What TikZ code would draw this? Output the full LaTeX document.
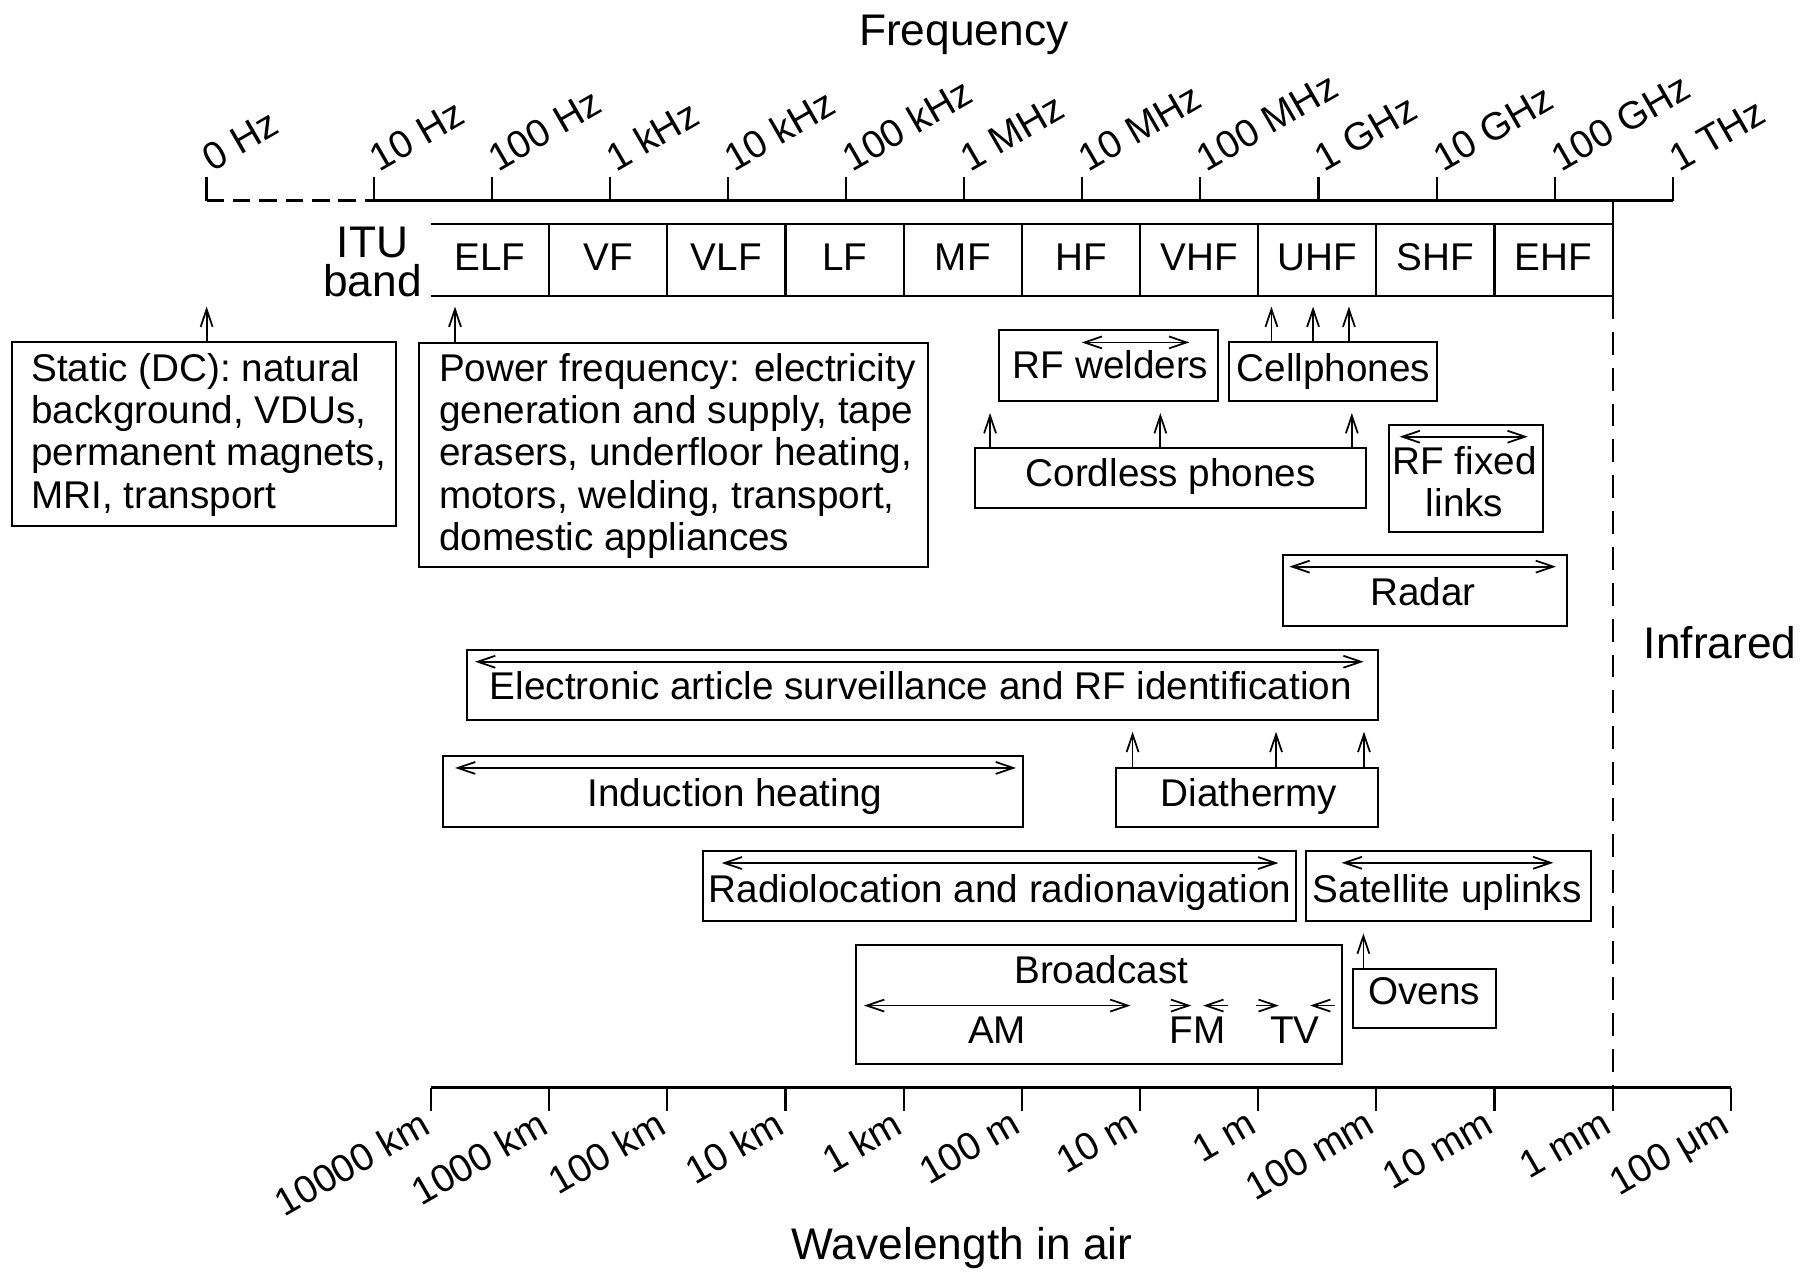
\documentclass[tikz,border=0pt]{standalone}
\usepackage{fontspec}
\setmainfont{Liberation Sans}
\usetikzlibrary{calc, fit, arrows.meta}
\newcommand{\boxfont}{\fontsize{11}{12}\selectfont}
\newcommand{\bigfont}{\fontsize{12.6}{11}\selectfont}

\begin{document}
\begin{tikzpicture}[x=0.011569cm, y=-0.011569cm,
    >={Straight Barb[length=5pt,width=3.4pt]},
    box/.style={draw, line width=0.6pt, inner sep=0pt, outer sep=0pt},
    txt/.style={font=\boxfont, inner sep=0pt, anchor=base},
    big/.style={font=\bigfont, inner sep=0pt, anchor=base},
    ptr/.style={->, line width=0.5pt},
    rng/.style={<->, line width=0.5pt}]
        \fill[white] (0,0) rectangle (1568,1100);
        \useasboundingbox (0,0) rectangle (1568,1100);
        % 周波数の軸
        \node[big] (freq) at (833,39.5) {Frequency};
        \draw[line width=0.8pt, dash pattern=on 5pt off 2.5pt] (178.5,173.5) -- (322.9,173.5);
        \draw[line width=0.8pt] (322.9,173.5) -- (1446,173.5);
        \foreach \x/\f [count=\i] in {178.5/0 Hz, 322.9/10 Hz, 425/100 Hz, 527.1/1 kHz,
            629.2/10 kHz, 731.3/100 kHz, 833.4/1 MHz, 935.5/10 MHz, 1037.6/100 MHz,
            1139.7/1 GHz, 1241.8/10 GHz, 1343.9/100 GHz, 1446/1 THz} {
            \draw[line width=0.6pt] (\x,152.7) -- (\x,173.5);
            \node[txt, rotate=30, anchor=base west] (fq\i) at (\x+5,149) {\f};
        }
        % ITU の帯域
        \node[big, align=center] (itu) at (322,256.4) {ITU\\band};
        \draw[line width=0.8pt] (372.5,193.6) -- (1394,193.6);
        \draw[line width=0.8pt] (372.5,255.9) -- (1394,255.9);
        \foreach \k in {1,...,9}
            \draw[line width=0.6pt] ({372.5+102.15*\k},193.6) -- ({372.5+102.15*\k},255.9);
        \foreach \b [count=\i] in {ELF,VF,VLF,LF,MF,HF,VHF,UHF,SHF,EHF}
            \node[txt] (band\i) at ({372.5+102.15*(\i-0.5)},233.4) {\b};
        % 赤外線との境界
        \draw[line width=0.6pt] (1394,173.5) -- (1394,255.9);
        \draw[line width=0.6pt, dash pattern=on 6.5pt off 3.7pt] (1394,255.9) -- (1394,940.2);
        \node[big] (ir) at (1487,569) {Infrared};
        % 静電界と商用周波数
        \node[box, fit={(10.1,295.3) (342.3,454.7)}] (static) {};
        \node[txt, align=left, anchor=base west] (statictxt) at (26.5,439.2)
            {Static (DC): natural\\background, VDUs,\\permanent magnets,\\MRI, transport};
        \draw[ptr] ($(static.north west)+(168.5,0)$) -- ++(0,-30.3);
        \node[box, fit={(362.5,296.2) (802,489.8)}] (power) {};
        \node[txt, align=left, anchor=base west] (powertxt) at (378.9,475.6)
            {Power frequency: electricity\\generation and supply, tape\\erasers, underfloor heating,\\motors, welding, transport,\\domestic appliances};
        \draw[ptr] ($(power.north west)+(30.8,0)$) -- ++(0,-31.2);
        % 高周波の用途
        \node[box, fit={(863.5,285) (1052.8,347)}] (rfw) {};
        \node[txt] (rfwtxt) at (960,327) {RF welders};
        \draw[rng] ($(rfw.north west)+(71.5,11)$) -- ($(rfw.north west)+(164.5,11)$);
        \node[box, fit={(1062.5,295.6) (1242,347)}] (cell) {};
        \node[txt] (celltxt) at (1152.5,330) {Cellphones};
        \foreach \dx in {36.5,72.5,103.5}
            \draw[ptr] ($(cell.north west)+(\dx,0)$) -- ++(0,-30.6);
        \node[box, fit={(843,387.5) (1181,439.4)}] (cord) {};
        \node[txt] (cordtxt) at (1012,420.7) {Cordless phones};
        \foreach \dx in {12.8,160,325.5}
            \draw[ptr] ($(cord.north west)+(\dx,0)$) -- ++(0,-30.5);
        \node[box, fit={(1200.6,367) (1333.6,459.6)}] (rffix) {};
        \node[txt, align=center] (rffixtxt) at (1266,446.6) {RF fixed\\links};
        \draw[rng] ($(rffix.north west)+(9.2,10.5)$) -- ($(rffix.north west)+(120,10.5)$);
        \node[box, fit={(1108.7,479.7) (1354.2,541.1)}] (radar) {};
        \node[txt] (radartxt) at (1230,523) {Radar};
        \draw[rng] ($(radar.north west)+(5.8,10.1)$) -- ($(radar.north west)+(236.3,10.1)$);
        % 帯域の広い用途
        \node[box, fit={(403.4,561.8) (1190.8,622.4)}] (eas) {};
        \node[txt] (eastxt) at (796,605) {Electronic article surveillance and RF identification};
        \draw[rng] ($(eas.north west)+(7.2,10.2)$) -- ($(eas.north west)+(775.3,10.2)$);
        \node[box, fit={(383.2,653.5) (884,714.8)}] (ind) {};
        \node[txt] (indtxt) at (635.3,697.3) {Induction heating};
        \draw[rng] ($(ind.north west)+(10.1,10.3)$) -- ($(ind.north west)+(495,10.3)$);
        \node[box, fit={(964.7,664) (1190.8,714.6)}] (dia) {};
        \node[txt] (diatxt) at (1079.6,697.3) {Diathermy};
        \foreach \dx in {14.3,138.3,214.3}
            \draw[ptr] ($(dia.north west)+(\dx,0)$) -- ++(0,-31.5);
        \node[box, fit={(607.4,735.3) (1120,796.3)}] (radloc) {};
        \node[txt] (radloctxt) at (864.5,780) {Radiolocation and radionavigation};
        \draw[rng] ($(radloc.north west)+(16.4,10.7)$) -- ($(radloc.north west)+(497.6,10.7)$);
        \node[box, fit={(1128.9,735.3) (1375,796.3)}] (sat) {};
        \node[txt] (sattxt) at (1251,780) {Satellite uplinks};
        \draw[rng] ($(sat.north west)+(30.8,10.5)$) -- ($(sat.north west)+(213.8,10.5)$);
        % 放送と電子レンジ
        \node[box, fit={(739.9,816.8) (1160,919.7)}] (bc) {};
        \node[txt] (bctxt) at (952,850.5) {Broadcast};
        \draw[rng] ($(bc.north west)+(6.9,52.4)$) -- ($(bc.north west)+(237.3,52.4)$);
        \draw[ptr] ($(bc.north west)+(271.1,52.4)$) -- ($(bc.north west)+(289.8,52.4)$);
        \draw[ptr] ($(bc.north west)+(321.6,52.4)$) -- ($(bc.north west)+(300.1,52.4)$);
        \draw[ptr] ($(bc.north west)+(346.1,52.4)$) -- ($(bc.north west)+(365.5,52.4)$);
        \draw[ptr] ($(bc.north west)+(414.1,52.4)$) -- ($(bc.north west)+(392.5,52.4)$);
        \node[txt] (am) at (861.9,901.8) {AM};
        \node[txt] (fm) at (1035.3,901.8) {FM};
        \node[txt] (tv) at (1119.3,901.8) {TV};
        \node[box, fit={(1169.8,837.9) (1293.1,888.9)}] (ovens) {};
        \node[txt] (ovenstxt) at (1231,868.7) {Ovens};
        \draw[ptr] ($(ovens.north west)+(8.7,0)$) -- ++(0,-31.1);
        % 波長の軸
        \draw[line width=0.8pt] (372.5,940.2) -- (1496.2,940.2);
        \foreach \f [count=\i from 0] in {10000 km, 1000 km, 100 km, 10 km, 1 km, 100 m,
            10 m, 1 m, 100 mm, 10 mm, 1 mm, 100 μm} {
            \draw[line width=0.6pt] ({372.5+102.15*\i},940.2) -- ({372.5+102.15*\i},960);
            \node[txt, rotate=30, anchor=north east] (wl\i) at ({372.5+102.15*\i-11},957) {\f};
        }
        \node[big] (wave) at (831.6,1089) {Wavelength in air};
    \end{tikzpicture}
\end{document}
